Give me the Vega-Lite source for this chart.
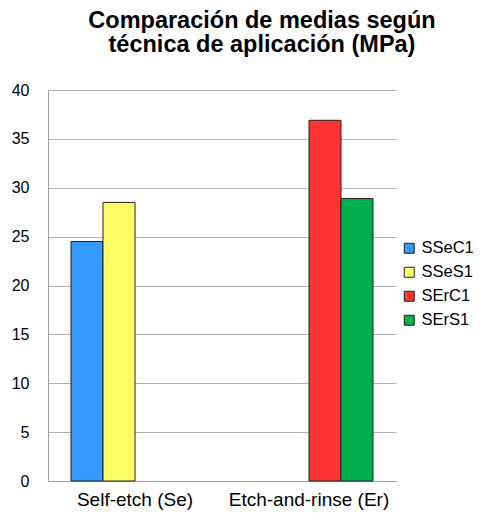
{
  "$schema": "https://vega.github.io/schema/vega-lite/v6.json",
  "width": 348,
  "height": 391,
  "autosize": "none",
  "padding": {"left": 48, "top": 90, "right": 88, "bottom": 36},
  "background": "white",
  "title": {
    "text": ["Comparación de medias según", "técnica de aplicación (MPa)"],
    "font": "Liberation Sans",
    "fontSize": 23.5,
    "fontWeight": "bold",
    "color": "#000000",
    "lineHeight": 24,
    "anchor": "middle",
    "dx": 40,
    "offset": 26
  },
  "data": {
    "values": [
      {"tech": "Self-etch (Se)", "group": "SSeC1", "value": 24.5},
      {"tech": "Self-etch (Se)", "group": "SSeS1", "value": 28.5},
      {"tech": "Etch-and-rinse (Er)", "group": "SErC1", "value": 36.9},
      {"tech": "Etch-and-rinse (Er)", "group": "SErS1", "value": 28.9}
    ]
  },
  "mark": {"type": "bar", "stroke": "#222222", "strokeWidth": 1},
  "encoding": {
    "x": {
      "field": "tech",
      "type": "nominal",
      "sort": ["Self-etch (Se)", "Etch-and-rinse (Er)"],
      "scale": {"paddingInner": 0.2644, "paddingOuter": 0.1322},
      "axis": {
        "title": null,
        "labelAngle": 0,
        "labelFont": "Liberation Sans",
        "labelFontSize": 19,
        "labelColor": "#000000",
        "labelPadding": 9,
        "ticks": false,
        "domainColor": "#a0a0a0",
        "domainWidth": 1
      }
    },
    "xOffset": {
      "field": "group",
      "type": "nominal",
      "scale": {"domain": ["SSeC1", "SSeS1", "SErC1", "SErS1"], "paddingInner": 0, "paddingOuter": 0}
    },
    "y": {
      "field": "value",
      "type": "quantitative",
      "scale": {"domain": [0, 40], "nice": false},
      "axis": {
        "title": null,
        "values": [0, 5, 10, 15, 20, 25, 30, 35, 40],
        "labelFont": "Liberation Sans",
        "labelFontSize": 16,
        "labelColor": "#000000",
        "labelPadding": 19,
        "ticks": false,
        "domainColor": "#a0a0a0",
        "gridColor": "#b3b3b3",
        "gridWidth": 1
      }
    },
    "color": {
      "field": "group",
      "type": "nominal",
      "scale": {
        "domain": ["SSeC1", "SSeS1", "SErC1", "SErS1"],
        "range": ["#3399ff", "#ffff66", "#ff3333", "#00b050"]
      },
      "legend": {
        "title": null,
        "orient": "none",
        "legendX": 353,
        "legendY": 150,
        "symbolType": "square",
        "symbolSize": 100,
        "symbolStrokeColor": "#222222",
        "symbolStrokeWidth": 1,
        "labelFont": "Liberation Sans",
        "labelFontSize": 16.5,
        "labelColor": "#000000",
        "labelOffset": 4,
        "rowPadding": 7
      }
    }
  },
  "config": {"view": {"stroke": null}}
}
